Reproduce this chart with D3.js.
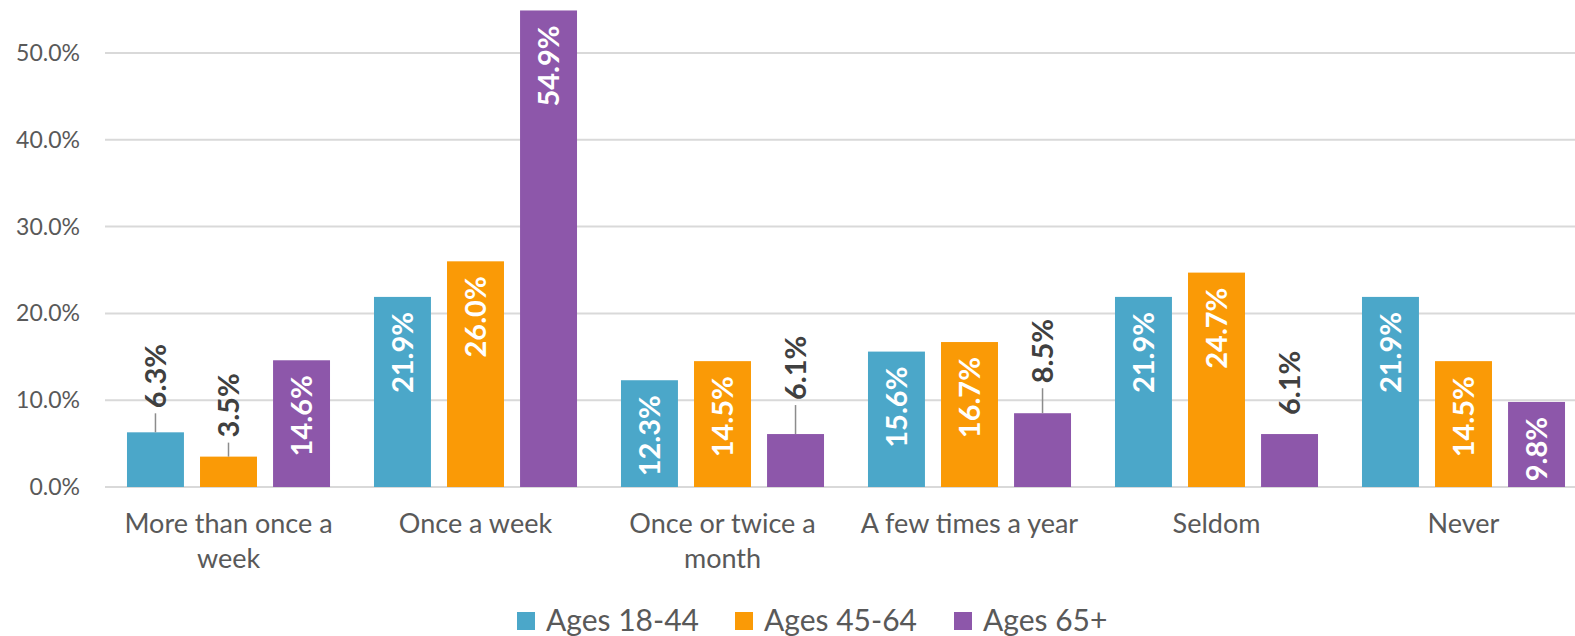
<!DOCTYPE html>
<html><head><meta charset="utf-8">
<script src="https://cdn.jsdelivr.net/npm/d3@7"></script>
<style>
html,body{margin:0;padding:0;background:#fff;}
svg{display:block;font-family:Lato,"Open Sans",sans-serif;}
</style></head>
<body>
<svg id="chart" width="1575" height="636"></svg>
<script>
const categories = [["More than once a","week"],["Once a week"],["Once or twice a","month"],["A few times a year"],["Seldom"],["Never"]];
const seriesNames = ["Ages 18-44","Ages 45-64","Ages 65+"];
const ages1844 = [6.3, 21.9, 12.3, 15.6, 21.9, 21.9];
const ages4564 = [3.5, 26.0, 14.5, 16.7, 24.7, 14.5];
const ages65 = [14.6, 54.9, 6.1, 8.5, 6.1, 9.8];
const yTicks = [0, 10, 20, 30, 40, 50];

const colors = ["#4BA7C9", "#FA9A06", "#8D57AA"];
// outside-label lift (px above bar) and whether a leader line is drawn
const outsideStyle = {"0-0":[24,true],"0-1":[19,true],"2-2":[34,true],"3-2":[30,true],"4-2":[19,false]};

const series = [ages1844, ages4564, ages65];
const svg = d3.select("#chart");
const x0 = d3.scaleBand().domain(d3.range(categories.length)).range([105, 1587]).paddingInner(0.178).paddingOuter(0.089);
const x1 = d3.scaleBand().domain(d3.range(seriesNames.length)).range([0, x0.bandwidth()]).paddingInner(0.22).paddingOuter(0);
const y = d3.scaleLinear().domain([0, 50]).range([487, 53]);

// gridlines
svg.append("g").selectAll("line").data(yTicks).join("line")
  .attr("x1", 105).attr("x2", 1587)
  .attr("y1", d => y(d)).attr("y2", d => y(d))
  .attr("stroke", "#d9d9d9").attr("stroke-width", 2);

// y labels
svg.append("g").selectAll("text").data(yTicks).join("text")
  .attr("x", 80).attr("y", d => y(d)).attr("dy", "0.35em")
  .attr("text-anchor", "end").attr("font-size", 23).attr("fill", "#595959")
  .text(d => d3.format(".1f")(d) + "%");

// bars
const flat = [];
categories.forEach((c, ci) => series.forEach((s, si) => flat.push({ci, si, v: s[ci]})));
svg.append("g").selectAll("rect").data(flat).join("rect")
  .attr("x", d => x0(d.ci) + x1(d.si)).attr("width", x1.bandwidth())
  .attr("y", d => y(d.v)).attr("height", d => y(0) - y(d.v))
  .attr("fill", d => colors[d.si]);

// labels
const lab = svg.append("g");
flat.forEach(d => {
  const cx = x0(d.ci) + x1(d.si) + x1.bandwidth() / 2;
  const top = y(d.v);
  const key = d.ci + "-" + d.si;
  const txt = d3.format(".1f")(d.v) + "%";
  if (outsideStyle[key]) {
    const [lift, leader] = outsideStyle[key];
    if (leader) {
      lab.append("line").attr("x1", cx).attr("x2", cx).attr("y1", top).attr("y2", top - lift + 5)
        .attr("stroke", "#8c8c8c").attr("stroke-width", 1.5);
    }
    lab.append("text").attr("transform", `translate(${cx},${top - lift}) rotate(-90)`)
      .attr("dy", "0.35em").attr("text-anchor", "start")
      .attr("font-size", 29).attr("font-weight", "bold").attr("fill", "#404040").text(txt);
  } else {
    lab.append("text").attr("transform", `translate(${cx},${top + 15}) rotate(-90)`)
      .attr("dy", "0.35em").attr("text-anchor", "end")
      .attr("font-size", 29).attr("font-weight", "bold").attr("fill", "#ffffff").text(txt);
  }
});

// category labels
const cat = svg.append("g");
categories.forEach((lines, ci) => {
  lines.forEach((l, li) => {
    cat.append("text").attr("x", x0(ci) + x0.bandwidth() / 2).attr("y", 533 + li * 35)
      .attr("text-anchor", "middle").attr("font-size", 27).attr("fill", "#595959").text(l);
  });
});

// legend
const legX = [517, 735, 954];
const leg = svg.append("g");
seriesNames.forEach((n, i) => {
  leg.append("rect").attr("x", legX[i]).attr("y", 612).attr("width", 18).attr("height", 18).attr("fill", colors[i]);
  leg.append("text").attr("x", legX[i] + 29).attr("y", 631).attr("font-size", 30).attr("fill", "#595959").text(n);
});
</script>
</body></html>
